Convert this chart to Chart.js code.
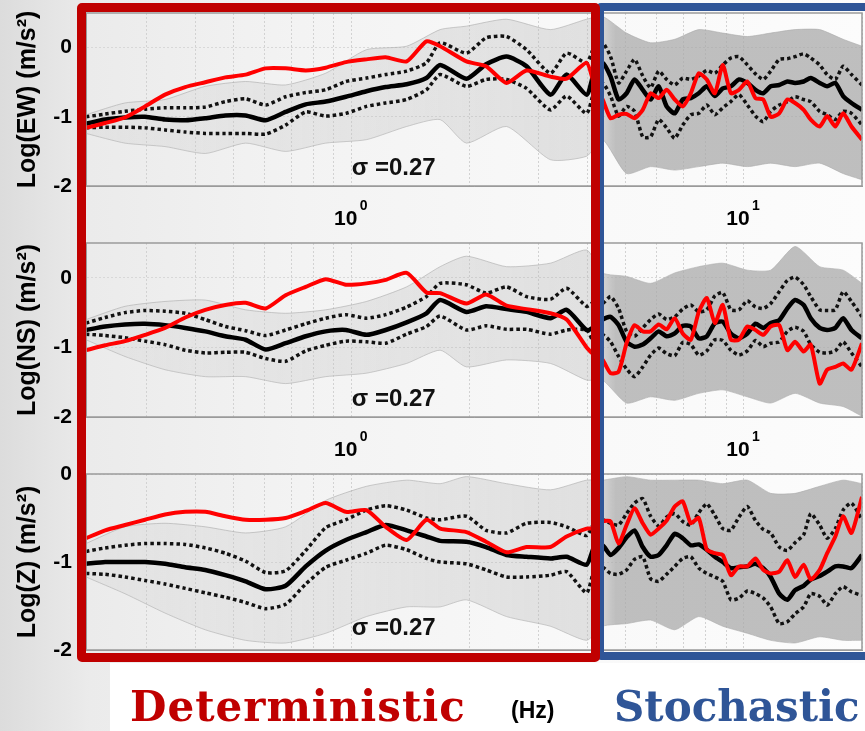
<!DOCTYPE html>
<html>
<head>
<meta charset="utf-8">
<script src="https://cdn.jsdelivr.net/npm/chart.js@4.4.1/dist/chart.umd.min.js"></script>
<style>
  body { margin: 0; width: 865px; height: 731px; overflow: hidden; position: relative;
         background: linear-gradient(90deg, #dcdcdc 0px, #ebebeb 90px, #f3f3f3 300px, #f9f9f9 600px, #fcfcfc 865px);
         font-family: "Liberation Sans", Arial, sans-serif; }
  canvas { position: absolute; left: 0; }
  #white { position: absolute; left: 110px; top: 663px; right: 0; bottom: 0; background: #fff; }
  .box { position: absolute; box-sizing: border-box; border-radius: 5px; }
  #stoBox { left: 596px; top: 3px; width: 280px; height: 657px; border: 8px solid #2f5597; }
  #detBox { left: 77px; top: 3px; width: 523px; height: 659px; border: 9px solid #c00000; }
  .big { position: absolute; top: 686px; font: bold 42px "DejaVu Serif", serif; line-height: 1; white-space: nowrap; }
  #hz { position: absolute; left: 511px; top: 699px; font: bold 23px "Liberation Sans", Arial, sans-serif; line-height: 1; }
</style>
</head>
<body>
<div id="white"></div>
<canvas id="ew" width="865" height="230" style="top:0"></canvas>
<canvas id="ns" width="865" height="231" style="top:230px"></canvas>
<canvas id="z" width="865" height="230" style="top:461px"></canvas>
<div class="box" id="stoBox"></div>
<div class="box" id="detBox"></div>
<div class="big" style="left:130px;color:#c00000;letter-spacing:1px">Deterministic</div>
<div id="hz">(Hz)</div>
<div class="big" style="left:614px;color:#2f5597">Stochastic</div>
<script>
// frequencies (Hz) of the read points
const freq = [0.21,0.235,0.264,0.297,0.334,0.376,0.423,0.476,0.536,0.603,0.678,0.763,0.858,0.966,1.09,1.22,1.38,1.55,1.68,1.96,2.2,2.48,2.79,3.21,3.53,3.97,
  4.16,4.36,4.57,4.79,5.02,5.26,5.52,5.78,6.06,6.35,6.66,6.98,7.32,7.67,8.04,8.43,8.83,9.26,9.71,10.2,10.7,11.2,11.7,12.3,12.9,13.5,14.2,14.8,15.6,16.3,17.1,17.9,18.8,20];
// frequencies of the grey envelope of all simulations
const envFreq = [0.21,0.264,0.334,0.423,0.536,0.678,0.858,1.09,1.38,1.68,1.96,2.48,3.21,3.97,4.36,5.02,5.78,6.66,7.67,8.83,10.2,11.7,13.5,15.6,17.9,20];

const xTicks = [0.3,0.4,0.5,0.6,0.7,0.8,0.9,1,2,3,4,5,6,7,8,9,10,20];
const xTickBase = {1: '10', 10: '10'};
const xTickExp = {1: '0', 10: '1'};
const yTicks = [-2, -1, 0];
const splitHz = 4.1;
const sigmaText = 'σ =0.27';

// EW
const ewRed = [-1.16,-1.09,-1.01,-0.85,-0.68,-0.57,-0.50,-0.43,-0.39,-0.30,-0.30,-0.33,-0.29,-0.21,-0.17,-0.14,-0.20,0.09,0.02,-0.20,-0.27,-0.51,-0.33,-0.42,-0.45,-0.22,
  -0.55,-0.75,-1.02,-0.97,-0.96,-1.02,-0.90,-0.66,-0.73,-0.61,-0.75,-0.85,-0.66,-0.37,-0.46,-0.66,-0.25,-0.66,-0.61,-0.49,-0.73,-0.75,-1.00,-0.95,-0.75,-0.80,-0.90,-1.04,-1.14,-0.99,-1.14,-0.95,-1.14,-1.33];
const ewMean = [-1.10,-1.04,-1.01,-1.00,-1.04,-1.05,-1.02,-0.98,-0.98,-1.05,-0.93,-0.82,-0.78,-0.71,-0.63,-0.57,-0.53,-0.44,-0.25,-0.45,-0.24,-0.13,-0.27,-0.68,-0.39,-0.68,
  -0.34,-0.22,-0.42,-0.75,-0.66,-0.46,-0.61,-0.75,-0.56,-0.85,-0.95,-0.75,-0.73,-0.66,-0.56,-0.70,-0.59,-0.56,-0.46,-0.51,-0.61,-0.66,-0.56,-0.54,-0.49,-0.51,-0.49,-0.44,-0.51,-0.56,-0.51,-0.70,-0.80,-0.90];
const ewUpper = [-1.00,-0.96,-0.92,-0.89,-0.87,-0.87,-0.86,-0.78,-0.74,-0.83,-0.71,-0.65,-0.61,-0.49,-0.44,-0.39,-0.34,-0.22,0.07,-0.08,0.14,0.16,-0.03,-0.37,-0.08,-0.22,
  0.02,0.07,-0.13,-0.51,-0.34,-0.17,-0.41,-0.58,-0.34,-0.46,-0.54,-0.44,-0.46,-0.41,-0.33,-0.37,-0.25,-0.15,-0.13,-0.25,-0.38,-0.46,-0.34,-0.17,-0.16,-0.13,-0.09,-0.15,-0.25,-0.39,-0.46,-0.27,-0.39,-0.54];
const ewLower = [-1.16,-1.15,-1.15,-1.16,-1.19,-1.22,-1.24,-1.24,-1.24,-1.25,-1.12,-0.93,-0.99,-0.95,-0.85,-0.80,-0.75,-0.61,-0.39,-0.56,-0.46,-0.46,-0.59,-0.90,-0.70,-0.95,
  -0.61,-0.51,-0.70,-0.99,-0.85,-0.92,-1.29,-1.29,-1.04,-1.16,-1.31,-1.12,-0.97,-0.95,-0.83,-0.97,-0.87,-0.78,-0.68,-0.83,-0.99,-1.07,-0.92,-0.83,-0.78,-0.71,-0.75,-0.78,-0.92,-0.97,-1.04,-0.92,-0.95,-1.12];
const ewEnvHi = [-0.97,-0.80,-0.75,-0.56,-0.49,-0.54,-0.37,-0.03,0.02,0.26,0.31,0.41,0.26,0.41,0.45,0.21,0.07,0.12,0.26,0.21,0.16,0.21,0.26,0.26,0.12,0.02];
const ewEnvLo = [-1.24,-1.38,-1.43,-1.53,-1.38,-1.50,-1.38,-1.33,-1.14,-1.04,-1.38,-1.14,-1.62,-1.57,-1.33,-1.82,-1.72,-1.77,-1.72,-1.67,-1.72,-1.67,-1.72,-1.67,-1.82,-1.91];

// NS
const nsRed = [-1.04,-0.97,-0.91,-0.82,-0.72,-0.57,-0.46,-0.39,-0.36,-0.44,-0.25,-0.13,-0.02,-0.10,-0.08,-0.03,0.07,-0.21,-0.22,-0.37,-0.24,-0.40,-0.45,-0.51,-0.60,-1.00,
  -1.11,-1.18,-1.37,-1.35,-0.94,-0.68,-0.77,-0.77,-0.67,-0.74,-0.58,-0.80,-0.89,-0.49,-0.29,-0.65,-0.39,-0.89,-0.89,-0.70,-0.75,-0.82,-0.70,-0.68,-1.04,-0.92,-1.06,-0.96,-1.52,-1.32,-1.28,-1.23,-1.32,-0.94];
const nsMean = [-0.75,-0.70,-0.67,-0.66,-0.68,-0.72,-0.77,-0.84,-0.89,-1.03,-0.94,-0.84,-0.77,-0.75,-0.82,-0.75,-0.64,-0.51,-0.32,-0.49,-0.41,-0.45,-0.49,-0.58,-0.46,-0.75,
  -0.70,-0.60,-0.56,-0.68,-0.92,-0.99,-0.96,-0.87,-0.77,-0.84,-0.80,-0.69,-0.70,-0.87,-0.84,-0.65,-0.63,-0.80,-0.87,-0.80,-0.66,-0.72,-0.65,-0.61,-0.44,-0.32,-0.39,-0.58,-0.72,-0.75,-0.72,-0.58,-0.75,-0.87];
const nsUpper = [-0.65,-0.57,-0.50,-0.47,-0.48,-0.51,-0.60,-0.70,-0.76,-0.83,-0.75,-0.66,-0.58,-0.53,-0.58,-0.53,-0.42,-0.27,-0.08,-0.10,-0.22,-0.13,-0.27,-0.31,-0.15,-0.41,
  -0.34,-0.37,-0.27,-0.44,-0.77,-0.84,-0.72,-0.60,-0.52,-0.60,-0.56,-0.45,-0.39,-0.49,-0.46,-0.26,-0.21,-0.46,-0.46,-0.33,-0.42,-0.44,-0.37,-0.20,-0.04,0.01,-0.10,-0.27,-0.46,-0.47,-0.46,-0.20,-0.34,-0.56];
const nsLower = [-0.81,-0.83,-0.86,-0.91,-0.96,-1.04,-1.08,-1.07,-1.07,-1.16,-1.20,-1.05,-0.97,-0.91,-0.92,-0.94,-0.81,-0.70,-0.55,-0.75,-0.69,-0.74,-0.74,-0.81,-0.75,-0.75,
  -0.94,-0.82,-0.92,-1.13,-1.31,-1.42,-1.28,-1.11,-1.01,-1.09,-1.12,-0.93,-0.96,-1.11,-1.05,-0.89,-0.90,-1.04,-1.11,-1.05,-0.90,-0.99,-0.94,-0.92,-0.77,-0.71,-0.77,-0.96,-1.07,-1.08,-1.05,-0.92,-1.08,-1.28];
const nsEnvHi = [-0.60,-0.41,-0.34,-0.32,-0.46,-0.51,-0.46,-0.34,-0.13,0.16,0.31,0.16,0.21,0.40,0.07,0.02,-0.08,0.07,0.16,0.21,0.11,0.11,0.45,0.16,0.11,-0.08];
const nsEnvLo = [-0.89,-1.13,-1.32,-1.42,-1.42,-1.52,-1.42,-1.37,-1.23,-1.04,-1.28,-1.18,-1.23,-1.47,-1.47,-1.80,-1.71,-1.76,-1.66,-1.61,-1.71,-1.80,-1.66,-1.80,-1.85,-1.99];

// Z
const zRed = [-0.73,-0.64,-0.58,-0.52,-0.46,-0.43,-0.43,-0.48,-0.52,-0.52,-0.50,-0.42,-0.33,-0.43,-0.41,-0.60,-0.75,-0.52,-0.62,-0.66,-0.77,-0.89,-0.83,-0.83,-0.71,-0.62,
  -0.62,-0.54,-0.54,-0.79,-0.58,-0.39,-0.56,-0.69,-0.62,-0.53,-0.37,-0.31,-0.56,-0.50,-0.86,-0.90,-0.92,-1.15,-1.05,-1.05,-0.96,-1.09,-1.13,-1.11,-0.98,-1.17,-1.03,-1.20,-1.09,-0.90,-0.71,-0.48,-0.67,-0.26];
const zMean = [-1.02,-1.00,-1.00,-1.00,-1.02,-1.06,-1.09,-1.15,-1.22,-1.31,-1.27,-1.05,-0.87,-0.75,-0.66,-0.58,-0.64,-0.71,-0.76,-0.77,-0.83,-0.92,-0.94,-0.96,-0.94,-1.03,
  -0.82,-0.81,-0.92,-0.84,-0.72,-0.64,-0.83,-0.94,-0.92,-0.81,-0.68,-0.73,-0.81,-0.80,-0.86,-0.94,-1.00,-1.07,-1.06,-1.05,-1.02,-1.07,-1.17,-1.36,-1.43,-1.32,-1.27,-1.20,-1.16,-1.11,-1.05,-1.05,-1.07,-0.92];
const zUpper = [-0.88,-0.84,-0.81,-0.79,-0.79,-0.80,-0.84,-0.90,-0.99,-1.12,-1.10,-0.87,-0.61,-0.52,-0.41,-0.36,-0.41,-0.50,-0.52,-0.48,-0.64,-0.67,-0.56,-0.55,-0.60,-0.70,
  -0.55,-0.52,-0.56,-0.58,-0.45,-0.33,-0.28,-0.48,-0.59,-0.49,-0.45,-0.54,-0.58,-0.44,-0.34,-0.47,-0.62,-0.64,-0.49,-0.37,-0.53,-0.63,-0.67,-0.83,-0.87,-0.78,-0.69,-0.45,-0.58,-0.73,-0.62,-0.41,-0.33,-0.52];
const zLower = [-1.13,-1.14,-1.17,-1.21,-1.25,-1.30,-1.35,-1.40,-1.46,-1.53,-1.48,-1.25,-1.06,-0.98,-0.90,-0.81,-0.86,-0.96,-1.00,-1.02,-1.09,-1.17,-1.17,-1.15,-1.11,-1.35,
  -1.08,-1.06,-1.13,-1.14,-1.09,-0.97,-0.94,-1.19,-1.22,-1.14,-1.05,-0.96,-0.94,-1.07,-1.13,-1.17,-1.22,-1.43,-1.41,-1.33,-1.36,-1.41,-1.51,-1.70,-1.68,-1.59,-1.51,-1.36,-1.39,-1.49,-1.36,-1.28,-1.34,-1.38];
const zEnvHi = [-0.79,-0.60,-0.56,-0.60,-0.67,-0.60,-0.30,-0.14,-0.07,-0.11,-0.03,-0.11,-0.18,-0.07,-0.07,-0.03,-0.07,-0.07,-0.07,-0.11,-0.07,-0.22,-0.22,-0.14,-0.07,-0.11];
const zEnvLo = [-1.17,-1.36,-1.58,-1.77,-1.89,-1.92,-1.81,-1.62,-1.51,-1.51,-1.43,-1.62,-1.73,-1.89,-1.73,-1.70,-1.66,-1.77,-1.62,-1.73,-1.81,-1.89,-1.92,-1.85,-1.89,-1.89];

Chart.defaults.font.family = '"Liberation Sans", Arial, sans-serif';

function pts(xs, ys) {
  return xs.map((x, i) => ({x: x, y: ys[i]}));
}

// grey of the simulations: sparse thin lines below splitHz, dense above
function greyFill(ctx) {
  const chart = ctx.chart, a = chart.chartArea;
  if (!a) return 'rgba(190,190,190,0.4)';
  const g = chart.ctx.createLinearGradient(a.left, 0, a.right, 0);
  const p = (chart.scales.x.getPixelForValue(splitHz) - a.left) / (a.right - a.left);
  g.addColorStop(0, 'rgba(200,200,200,0.22)');
  g.addColorStop(p, 'rgba(185,185,185,0.38)');
  g.addColorStop(Math.min(1, p + 0.03), 'rgba(170,170,170,0.75)');
  g.addColorStop(1, 'rgba(170,170,170,0.75)');
  return g;
}

const frame = {
  id: 'frame',
  afterDatasetsDraw(chart, args, opts) {
    const a = chart.chartArea, c = chart.ctx, x = chart.scales.x;
    c.save();
    c.strokeStyle = '#9a9a9a';
    c.lineWidth = 1.5;
    c.strokeRect(a.left, a.top, a.right - a.left, a.bottom - a.top);
    c.fillStyle = '#111';
    c.font = 'bold 24px "Liberation Sans", Arial, sans-serif';
    c.textBaseline = 'middle';
    c.fillText(sigmaText, x.getPixelForValue(1), chart.scales.y.getPixelForValue(-1.75));
    if (opts.showX) {
      // exponents of the decade labels
      c.fillStyle = '#000';
      c.font = 'bold 14px "Liberation Sans", Arial, sans-serif';
      Object.keys(xTickExp).forEach(v => {
        c.fillText(xTickExp[v], x.getPixelForValue(+v) + 8, a.bottom + 20);
      });
    }
    c.restore();
  }
};

function makePanel(id, title, yMax, s, showX, axisH) {
  new Chart(document.getElementById(id), {
    type: 'line',
    data: {
      datasets: [
        {data: pts(freq, s.red), borderColor: '#ff0000', borderWidth: 4},
        {data: pts(freq, s.mean), borderColor: '#000', borderWidth: 4.5},
        {data: pts(freq, s.upper), borderColor: '#111', borderWidth: 3.5, borderDash: [3.5, 3]},
        {data: pts(freq, s.lower), borderColor: '#111', borderWidth: 3.5, borderDash: [3.5, 3]},
        {data: pts(envFreq, s.envHi), borderColor: 'rgba(170,170,170,0.6)', borderWidth: 1, fill: '+1', backgroundColor: greyFill},
        {data: pts(envFreq, s.envLo), borderColor: 'rgba(170,170,170,0.6)', borderWidth: 1}
      ]
    },
    options: {
      responsive: false,
      animation: false,
      layout: {padding: {top: 13, right: 3, left: 0, bottom: 0}},
      elements: {point: {radius: 0}, line: {tension: 0.2, borderJoinStyle: 'round'}},
      plugins: {legend: {display: false}, tooltip: {enabled: false}, frame: {showX: showX}},
      scales: {
        x: {
          type: 'logarithmic', min: 0.21, max: 20,
          afterBuildTicks: sc => { sc.ticks = xTicks.map(v => ({value: v})); },
          afterFit: sc => { sc.height = axisH; sc.paddingLeft = 0; sc.paddingRight = 0; },
          ticks: {display: showX, autoSkip: false, maxRotation: 0, padding: 21, labelOffset: -6, color: '#000',
                  font: {size: 21, weight: 'bold'}, callback: v => xTickBase[v] || ''},
          grid: {color: '#d2d2d2', drawTicks: false},
          border: {color: '#999', dash: [2, 2]}
        },
        y: {
          min: -2, max: yMax,
          afterBuildTicks: sc => { sc.ticks = yTicks.map(v => ({value: v})); },
          afterFit: sc => { sc.width = 86; sc.paddingTop = 0; sc.paddingBottom = 0; },
          ticks: {padding: 14, color: '#000', font: {size: 21, weight: 'bold'}},
          grid: {color: '#d8d8d8', drawTicks: false},
          border: {color: '#999', dash: [2, 2]},
          title: {display: true, text: title, color: '#000', font: {size: 25, weight: 'bold'}, padding: {top: 13}}
        }
      }
    },
    plugins: [frame]
  });
}

makePanel('ew', 'Log(EW) (m/s²)', 0.5,
  {red: ewRed, mean: ewMean, upper: ewUpper, lower: ewLower, envHi: ewEnvHi, envLo: ewEnvLo}, true, 44);
makePanel('ns', 'Log(NS) (m/s²)', 0.5,
  {red: nsRed, mean: nsMean, upper: nsUpper, lower: nsLower, envHi: nsEnvHi, envLo: nsEnvLo}, true, 44);
makePanel('z', 'Log(Z) (m/s²)', 0,
  {red: zRed, mean: zMean, upper: zUpper, lower: zLower, envHi: zEnvHi, envLo: zEnvLo}, false, 41);
</script>
</body>
</html>
